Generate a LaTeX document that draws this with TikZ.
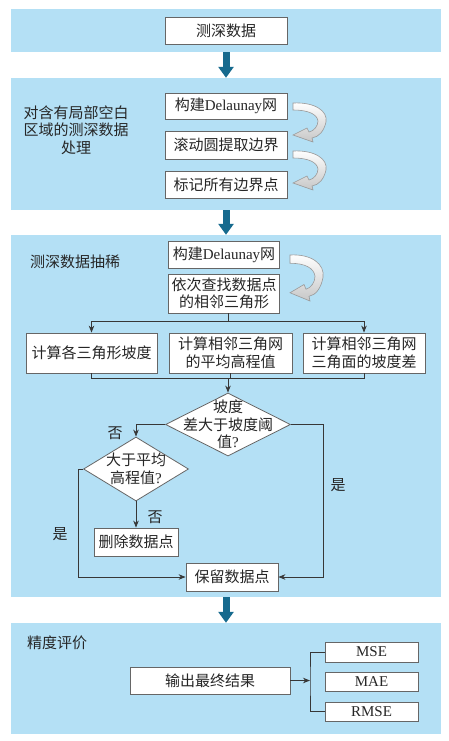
\documentclass[tikz,border=0pt]{standalone}
\usepackage{fontspec}
\setmainfont{Liberation Serif}
\newfontfamily\cjk{Noto Sans CJK SC}
\usetikzlibrary{shapes.geometric, arrows.meta}

\definecolor{panelblue}{RGB}{180,224,245}
\definecolor{flowblue}{RGB}{22,106,142}
\definecolor{linegray}{RGB}{55,55,55}

\tikzset{
	panel/.style = {rectangle, fill = panelblue, minimum width = 430pt, inner sep = 0pt},
	box/.style = {rectangle, draw = black!60, fill = white, line width = 0.8pt, inner sep = 0pt, align = center},
	decision/.style = {diamond, draw = black!60, fill = white, line width = 0.8pt, inner sep = 0pt},
	txt/.style = {align = center, inner sep = 0pt},
	latin/.style = {font = \rmfamily\fontsize{15}{17.5}\selectfont},
	link/.style = {draw = linegray, line width = 0.8pt},
	flow/.style = {link, -{Stealth[length = 7pt, width = 5.5pt]}},
	bigflow/.style = {draw = flowblue, line width = 7pt, -{Triangle[length = 11pt, width = 15pt]}},
	bendarrow/.style = {draw = black!40, line width = 0.6pt, top color = white, middle color = white, bottom color = black!22}
}

\newcommand{\turnarrow}[2]{
	\draw [bendarrow, shift = {(#1)}, yscale = #2] (0,0) .. controls (22,-1) and (35,8) .. (33,19) .. controls (31,28) and (26,34) .. (19,35) -- (20,39) -- (0,32) -- (14,25) -- (16,29) .. controls (21,28) and (25,23) .. (25,18) .. controls (24,11) and (15,7) .. (0,7) -- cycle;
}

\begin{document}
\begin{tikzpicture}[x = 1pt, y = -1pt, font = \cjk\fontsize{15}{17.5}\selectfont, text = black!85]
	\useasboundingbox (0,0) rectangle (448,741);

	\node [panel, minimum height = 43pt] (p1) at (226,30.5) {};
	\node [panel, minimum height = 132pt] (p2) at (226,144) {};
	\node [panel, minimum height = 362pt] (p3) at (226,416) {};
	\node [panel, minimum height = 111pt] (p4) at (226,678.5) {};

	\draw [bigflow] (p1.south) -- (p2.north);
	\draw [bigflow] (p2.south) -- (p3.north);
	\draw [bigflow] (p3.south) -- (p4.north);

	\node [box, minimum width = 122pt, minimum height = 27pt] (data) at (226,30.5) {测深数据};

	\node [txt] (lbl2) at (76,130) {对含有局部空白\\区域的测深数据\\处理};
	\node [box, minimum width = 122pt, minimum height = 26pt] (b1) at (226,106) {构建{\rmfamily Delaunay}网};
	\node [box, minimum width = 122pt, minimum height = 28pt] (b2) at (226,145) {滚动圆提取边界};
	\node [box, minimum width = 122pt, minimum height = 27pt] (b3) at (226,184.5) {标记所有边界点};
	\turnarrow{293,103}{1}
	\turnarrow{293,151}{1}

	\node [txt, anchor = west] (lbl3) at (30,262) {测深数据抽稀};
	\node [box, minimum width = 111pt, minimum height = 27pt] (c1) at (224,254.5) {构建{\rmfamily Delaunay}网};
	\node [box, minimum width = 111pt, minimum height = 39pt] (c2) at (224,293.5) {依次查找数据点\\的相邻三角形};
	\turnarrow{290,255}{1.18}

	\node [box, minimum width = 131pt, minimum height = 40pt] (e1) at (91.5,353) {计算各三角形坡度};
	\node [box, minimum width = 123pt, minimum height = 40pt] (e2) at (230.5,353) {计算相邻三角网\\的平均高程值};
	\node [box, minimum width = 122pt, minimum height = 40pt] (e3) at (364,353) {计算相邻三角网\\三角面的坡度差};

	\coordinate (split) at (228,321);
	\coordinate (merge) at (228,378);
	\draw [link] (c2.south -| split) -- (split);
	\draw [link] (e1.north |- split) -- (e3.north |- split);
	\draw [flow] (e1.north |- split) -- (e1.north);
	\draw [flow] (e3.north |- split) -- (e3.north);
	\draw [link] (e1.south) -- (e1.south |- merge) -- (e3.south |- merge) -- (e3.south);
	\draw [link] (e2.south) -- (e2.south |- merge);

	\node [decision, minimum width = 125pt, minimum height = 63pt] (d1) at (228,424.5) {};
	\node [txt] (d1t) at (d1) {坡度\\差大于坡度阈\\值{\rmfamily ?}};
	\node [decision, minimum width = 105pt, minimum height = 64pt] (d2) at (136,469) {};
	\node [txt] (d2t) at (d2) {大于平均\\高程值{\rmfamily ?}};
	\node [box, minimum width = 84pt, minimum height = 28pt] (del) at (136,542) {删除数据点};
	\node [box, minimum width = 92pt, minimum height = 28pt] (keep) at (232,577) {保留数据点};

	\draw [flow] (merge) -- (d1.north);
	\draw [flow] (d1.west) -| (d2.north);
	\draw [flow] (d1.east) -- ++(32.5,0) |- (keep.east);
	\draw [flow] (d2.south) -- (del.north);
	\draw [flow] (d2.west) -- ++(-5,0) |- (keep.west);

	\node [txt] (no1) at (115,433) {否};
	\node [txt] (yes1) at (338,485) {是};
	\node [txt] (no2) at (155,517) {否};
	\node [txt] (yes2) at (60,534) {是};

	\node [txt, anchor = west] (lbl4) at (27,643) {精度评价};
	\node [box, minimum width = 160pt, minimum height = 27pt] (out) at (210,680.5) {输出最终结果};
	\node [box, latin, minimum width = 93pt, minimum height = 20pt] (mse) at (371.5,652) {MSE};
	\node [box, latin, minimum width = 93pt, minimum height = 19pt] (mae) at (371.5,681.5) {MAE};
	\node [box, latin, minimum width = 93pt, minimum height = 19pt] (rmse) at (371.5,711.5) {RMSE};

	\coordinate (brk) at (310,680.5);
	\draw [flow] (out.east) -- (brk);
	\draw [link] (mse.west) -| (brk) |- (rmse.west);
\end{tikzpicture}
\end{document}
